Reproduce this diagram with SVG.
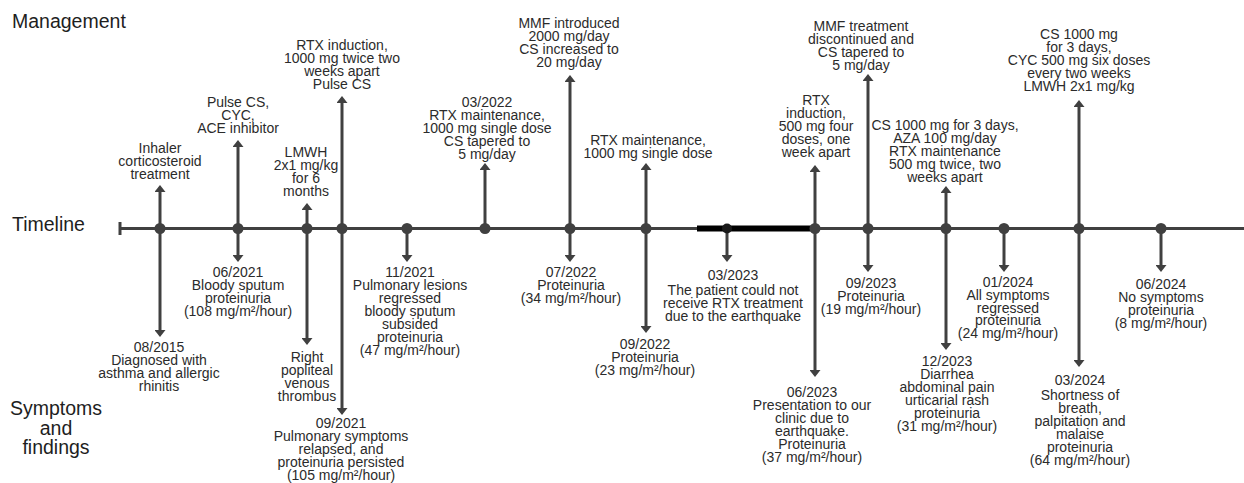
<svg xmlns="http://www.w3.org/2000/svg" width="1244" height="483" viewBox="0 0 1244 483">
<style>
.t{font-family:"Liberation Sans",Arial,sans-serif;font-size:14px;fill:#2b2b2b;text-anchor:middle}
.h{font-family:"Liberation Sans",Arial,sans-serif;font-size:19.5px;fill:#1e1e1e}
.a{stroke:#404040;stroke-width:3;fill:none}
.d{fill:#404040}
</style>
<defs>
<marker id="ah" markerUnits="userSpaceOnUse" viewBox="0 0 7 11" refX="1" refY="5.5" markerWidth="7" markerHeight="11" orient="auto">
<path d="M0,0 L7,5.5 L0,11 Z" fill="#404040"/>
</marker>
</defs>
<rect width="1244" height="483" fill="#ffffff"/>
<g id="axis-labels">
<text class="h" x="12" y="28">Management</text>
<text class="h" x="12" y="231">Timeline</text>
<text class="h" text-anchor="middle" x="56" y="415">Symptoms</text>
<text class="h" text-anchor="middle" x="56" y="435">and</text>
<text class="h" text-anchor="middle" x="56" y="454">findings</text>
</g>
<g id="connectors">
<line class="a" x1="120" y1="228.5" x2="1244" y2="228.5"/>
<line class="a" x1="120" y1="222" x2="120" y2="235"/>
<rect x="697" y="225.5" width="118" height="6" fill="#000"/>
<!-- up arrows -->
<line class="a" x1="160" y1="228" x2="160" y2="191" marker-end="url(#ah)"/>
<line class="a" x1="238" y1="228" x2="238" y2="146" marker-end="url(#ah)"/>
<line class="a" x1="307" y1="228" x2="307" y2="209" marker-end="url(#ah)"/>
<line class="a" x1="342" y1="228" x2="342" y2="102" marker-end="url(#ah)"/>
<line class="a" x1="485" y1="228" x2="485" y2="169" marker-end="url(#ah)"/>
<line class="a" x1="570" y1="228" x2="570" y2="81" marker-end="url(#ah)"/>
<line class="a" x1="646" y1="228" x2="646" y2="169" marker-end="url(#ah)"/>
<line class="a" x1="815" y1="228" x2="815" y2="171" marker-end="url(#ah)"/>
<line class="a" x1="868" y1="228" x2="868" y2="80" marker-end="url(#ah)"/>
<line class="a" x1="946" y1="228" x2="946" y2="192" marker-end="url(#ah)"/>
<line class="a" x1="1079" y1="228" x2="1079" y2="106" marker-end="url(#ah)"/>
<!-- down arrows -->
<line class="a" x1="160" y1="229" x2="160" y2="331" marker-end="url(#ah)"/>
<line class="a" x1="238" y1="229" x2="238" y2="256" marker-end="url(#ah)"/>
<line class="a" x1="307" y1="229" x2="307" y2="339" marker-end="url(#ah)"/>
<line class="a" x1="342" y1="229" x2="342" y2="409" marker-end="url(#ah)"/>
<line class="a" x1="407" y1="229" x2="407" y2="256" marker-end="url(#ah)"/>
<line class="a" x1="570" y1="229" x2="570" y2="256" marker-end="url(#ah)"/>
<line class="a" x1="646" y1="229" x2="646" y2="327" marker-end="url(#ah)"/>
<line class="a" x1="727" y1="229" x2="727" y2="256" marker-end="url(#ah)"/>
<line class="a" x1="815" y1="229" x2="815" y2="371" marker-end="url(#ah)"/>
<line class="a" x1="868" y1="229" x2="868" y2="266" marker-end="url(#ah)"/>
<line class="a" x1="946" y1="229" x2="946" y2="344" marker-end="url(#ah)"/>
<line class="a" x1="1004" y1="229" x2="1004" y2="266" marker-end="url(#ah)"/>
<line class="a" x1="1079" y1="229" x2="1079" y2="361" marker-end="url(#ah)"/>
<line class="a" x1="1161" y1="229" x2="1161" y2="266" marker-end="url(#ah)"/>
<!-- dots -->
<circle class="d" cx="160" cy="228.5" r="5.5"/>
<circle class="d" cx="238" cy="228.5" r="5.5"/>
<circle class="d" cx="307" cy="228.5" r="5.5"/>
<circle class="d" cx="342" cy="228.5" r="5.5"/>
<circle class="d" cx="407" cy="228.5" r="5.5"/>
<circle class="d" cx="485" cy="228.5" r="5.5"/>
<circle class="d" cx="570" cy="228.5" r="5.5"/>
<circle class="d" cx="646" cy="228.5" r="5.5"/>
<circle cx="727" cy="228.5" r="5" fill="#1a1a1a"/>
<circle class="d" cx="815" cy="228.5" r="5.5"/>
<circle class="d" cx="868" cy="228.5" r="5.5"/>
<circle class="d" cx="946" cy="228.5" r="5.5"/>
<circle class="d" cx="1004" cy="228.5" r="5.5"/>
<circle class="d" cx="1079" cy="228.5" r="5.5"/>
<circle class="d" cx="1161" cy="228.5" r="5.5"/>
</g>
<!-- management nodes -->
<g id="m-inhaler"><text class="t" y="153"><tspan x="160">Inhaler</tspan><tspan x="160" dy="13">corticosteroid</tspan><tspan x="160" dy="13">treatment</tspan></text></g>
<g id="m-pulse"><text class="t" y="107"><tspan x="238">Pulse CS,</tspan><tspan x="238" dy="13">CYC,</tspan><tspan x="238" dy="13">ACE inhibitor</tspan></text></g>
<g id="m-lmwh"><text class="t" y="157"><tspan x="306">LMWH</tspan><tspan x="306" dy="13">2x1 mg/kg</tspan><tspan x="306" dy="13">for 6</tspan><tspan x="306" dy="13">months</tspan></text></g>
<g id="m-rtx-ind1"><text class="t" y="50"><tspan x="342">RTX induction,</tspan><tspan x="342" dy="13">1000 mg twice two</tspan><tspan x="342" dy="13">weeks apart</tspan><tspan x="342" dy="13">Pulse CS</tspan></text></g>
<g id="m-rtx-maint1"><text class="t" y="107"><tspan x="487">03/2022</tspan><tspan x="487" dy="13">RTX maintenance,</tspan><tspan x="487" dy="13">1000 mg single dose</tspan><tspan x="487" dy="13">CS  tapered to</tspan><tspan x="487" dy="13">5 mg/day</tspan></text></g>
<g id="m-mmf"><text class="t" y="28"><tspan x="569">MMF introduced</tspan><tspan x="569" dy="13">2000 mg/day</tspan><tspan x="569" dy="13">CS increased to</tspan><tspan x="569" dy="13">20 mg/day</tspan></text></g>
<g id="m-rtx-maint2"><text class="t" y="145"><tspan x="648">RTX maintenance,</tspan><tspan x="648" dy="13">1000 mg single dose</tspan></text></g>
<g id="m-rtx-ind2"><text class="t" y="105"><tspan x="816">RTX</tspan><tspan x="816" dy="13">induction,</tspan><tspan x="816" dy="13">500 mg four</tspan><tspan x="816" dy="13">doses, one</tspan><tspan x="816" dy="13">week apart</tspan></text></g>
<g id="m-mmf-stop"><text class="t" y="31"><tspan x="861">MMF treatment</tspan><tspan x="861" dy="13">discontinued and</tspan><tspan x="861" dy="13">CS tapered to</tspan><tspan x="861" dy="13">5 mg/day</tspan></text></g>
<g id="m-aza"><text class="t" y="130"><tspan x="945">CS 1000 mg for 3 days,</tspan><tspan x="945" dy="13">AZA 100 mg/day</tspan><tspan x="945" dy="13">RTX maintenance</tspan><tspan x="945" dy="13">500 mg twice, two</tspan><tspan x="945" dy="13">weeks apart</tspan></text></g>
<g id="m-cyc2"><text class="t" y="39"><tspan x="1079">CS 1000 mg</tspan><tspan x="1079" dy="13">for 3 days,</tspan><tspan x="1079" dy="13">CYC 500 mg six doses</tspan><tspan x="1079" dy="13">every two weeks</tspan><tspan x="1079" dy="13">LMWH 2x1 mg/kg</tspan></text></g>
<!-- symptom nodes -->
<g id="s-2015"><text class="t" y="352"><tspan x="159">08/2015</tspan><tspan x="159" dy="13">Diagnosed with</tspan><tspan x="159" dy="13">asthma and allergic</tspan><tspan x="159" dy="13">rhinitis</tspan></text></g>
<g id="s-2021-06"><text class="t" y="277"><tspan x="238">06/2021</tspan><tspan x="238" dy="13">Bloody sputum</tspan><tspan x="238" dy="13">proteinuria</tspan><tspan x="238" dy="13">(108 mg/m²/hour)</tspan></text></g>
<g id="s-thrombus"><text class="t" y="362"><tspan x="307">Right</tspan><tspan x="307" dy="13">popliteal</tspan><tspan x="307" dy="13">venous</tspan><tspan x="307" dy="13">thrombus</tspan></text></g>
<g id="s-2021-09"><text class="t" y="428"><tspan x="341">09/2021</tspan><tspan x="341" dy="13">Pulmonary symptoms</tspan><tspan x="341" dy="13">relapsed, and</tspan><tspan x="341" dy="13">proteinuria persisted</tspan><tspan x="341" dy="13">(105 mg/m²/hour)</tspan></text></g>
<g id="s-2021-11"><text class="t" y="277"><tspan x="410">11/2021</tspan><tspan x="410" dy="13">Pulmonary lesions</tspan><tspan x="410" dy="13">regressed</tspan><tspan x="410" dy="13">bloody sputum</tspan><tspan x="410" dy="13">subsided</tspan><tspan x="410" dy="13">proteinuria</tspan><tspan x="410" dy="13">(47 mg/m²/hour)</tspan></text></g>
<g id="s-2022-07"><text class="t" y="277"><tspan x="571">07/2022</tspan><tspan x="571" dy="13">Proteinuria</tspan><tspan x="571" dy="13">(34 mg/m²/hour)</tspan></text></g>
<g id="s-2022-09"><text class="t" y="349"><tspan x="645">09/2022</tspan><tspan x="645" dy="13">Proteinuria</tspan><tspan x="645" dy="13">(23 mg/m²/hour)</tspan></text></g>
<g id="s-2023-03"><text class="t" y="280"><tspan x="733">03/2023</tspan><tspan x="733" dy="15">The patient could not</tspan><tspan x="733" dy="13">receive RTX treatment</tspan><tspan x="733" dy="13">due to the earthquake</tspan></text></g>
<g id="s-2023-06"><text class="t" y="397"><tspan x="812">06/2023</tspan><tspan x="812" dy="13">Presentation to our</tspan><tspan x="812" dy="13">clinic due to</tspan><tspan x="812" dy="13">earthquake.</tspan><tspan x="812" dy="13">Proteinuria</tspan><tspan x="812" dy="13">(37 mg/m²/hour)</tspan></text></g>
<g id="s-2023-09"><text class="t" y="288"><tspan x="871">09/2023</tspan><tspan x="871" dy="13">Proteinuria</tspan><tspan x="871" dy="13">(19 mg/m²/hour)</tspan></text></g>
<g id="s-2023-12"><text class="t" y="366"><tspan x="947">12/2023</tspan><tspan x="947" dy="13">Diarrhea</tspan><tspan x="947" dy="13">abdominal pain</tspan><tspan x="947" dy="13">urticarial rash</tspan><tspan x="947" dy="13">proteinuria</tspan><tspan x="947" dy="13">(31 mg/m²/hour)</tspan></text></g>
<g id="s-2024-01"><text class="t" y="287"><tspan x="1008">01/2024</tspan><tspan x="1008" dy="12.8">All symptoms</tspan><tspan x="1008" dy="12.8">regressed</tspan><tspan x="1008" dy="12.8">proteinuria</tspan><tspan x="1008" dy="12.8">(24 mg/m²/hour)</tspan></text></g>
<g id="s-2024-03"><text class="t" y="385"><tspan x="1080">03/2024</tspan><tspan x="1080" dy="15">Shortness of</tspan><tspan x="1080" dy="13">breath,</tspan><tspan x="1080" dy="13">palpitation and</tspan><tspan x="1080" dy="13">malaise</tspan><tspan x="1080" dy="13">proteinuria</tspan><tspan x="1080" dy="13">(64 mg/m²/hour)</tspan></text></g>
<g id="s-2024-06"><text class="t" y="289"><tspan x="1161">06/2024</tspan><tspan x="1161" dy="13">No symptoms</tspan><tspan x="1161" dy="13">proteinuria</tspan><tspan x="1161" dy="13">(8 mg/m²/hour)</tspan></text></g>
</svg>
